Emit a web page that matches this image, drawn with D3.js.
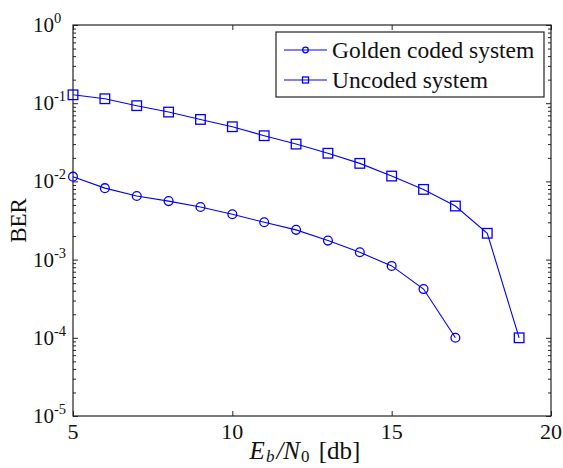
<!DOCTYPE html>
<html>
<head>
<meta charset="utf-8">
<script src="https://cdn.jsdelivr.net/npm/d3@7"></script>
<style>
  body { margin: 0; background: #fff; }
  svg, svg text { font-family: "Liberation Serif", Tinos, "Nimbus Roman", "Times New Roman", "DejaVu Serif", serif; }
</style>
</head>
<body>
<svg id="viz-svg" width="563" height="468"></svg>
<script>
// values
var snr = [5, 6, 7, 8, 9, 10, 11, 12, 13, 14, 15, 16, 17, 18, 19]
  , golden = [0.0115, 0.0082, 0.0065, 0.0056, 0.0047, 0.0038, 0.0030, 0.0024, 0.00175, 0.00124, 0.00083, 0.00042, 0.0001]
  , uncoded = [0.128, 0.114, 0.093, 0.077, 0.062, 0.050, 0.0384, 0.030, 0.0229, 0.0170, 0.0117, 0.0079, 0.00484, 0.00217, 0.0001]
  , xTicks = [5, 10, 15, 20]
  , yExps = [0, -1, -2, -3, -4, -5]
  , seriesNames = ["Golden coded system", "Uncoded system"];

var svg = d3.select("#viz-svg")
  , m = {left: 73, right: 551, top: 25, bottom: 416}
  , axisColor = "#222"
  , blue = "#0000ff"
  , serif = "'Liberation Serif', Tinos, 'Nimbus Roman', 'Times New Roman', 'DejaVu Serif', serif";

svg.attr("font-family", serif);

var x = d3.scaleLinear().domain([5, 20]).range([m.left, m.right]);
var y = d3.scaleLog().domain([1e-5, 1]).range([m.bottom, m.top]);

// minor ticks for the log axis
var minor = [];
yExps.slice(0, -1).forEach(function(e){
  for (var k = 2; k < 10; k++) minor.push(k * Math.pow(10, e - 1));
});
var major = yExps.map(function(e){ return Math.pow(10, e); });

var axes = svg.append("g").attr("class", "axes");

// frame
axes.append("rect")
  .attr("x", m.left).attr("y", m.top)
  .attr("width", m.right - m.left).attr("height", m.bottom - m.top)
  .attr("fill", "none").attr("stroke", axisColor).attr("stroke-width", 1.2);

function drawTicks(axisFn, tx, ty, vals, size){
  var g = axes.append("g")
    .attr("transform", "translate(" + tx + "," + ty + ")")
    .call(axisFn.tickValues(vals).tickSize(size).tickFormat(""));
  g.select(".domain").remove();
  g.selectAll(".tick line").attr("stroke", axisColor).attr("stroke-width", 1);
}
// y ticks, inward, left + right
drawTicks(d3.axisLeft(y), m.left, 0, major, -5);
drawTicks(d3.axisLeft(y), m.left, 0, minor, -3);
drawTicks(d3.axisRight(y), m.right, 0, major, -5);
drawTicks(d3.axisRight(y), m.right, 0, minor, -3);
// x ticks, inward, bottom + top
drawTicks(d3.axisBottom(x), 0, m.bottom, xTicks, -5);
drawTicks(d3.axisTop(x), 0, m.top, xTicks, -5);

// x tick labels
axes.selectAll(".xlab").data(xTicks).enter().append("text")
  .attr("class", "xlab")
  .attr("x", function(d){ return x(d); })
  .attr("y", m.bottom + 23)
  .attr("text-anchor", "middle")
  .attr("font-family", serif)
  .attr("font-size", 22)
  .attr("fill", "#111")
  .text(function(d){ return d; });

// y tick labels 10^e
var yl = axes.selectAll(".ylab").data(yExps).enter().append("text")
  .attr("class", "ylab")
  .attr("x", 33)
  .attr("y", function(e){ return y(Math.pow(10, e)) + 7; })
  .attr("font-family", serif)
  .attr("font-size", 21)
  .attr("fill", "#111");
yl.append("tspan").text("10");
yl.append("tspan")
  .attr("dy", -9)
  .attr("font-size", 14.5)
  .text(function(e){ return e === 0 ? "0" : "-" + (-e); });

// axis titles
var xt = axes.append("text")
  .attr("x", 305).attr("y", 459)
  .attr("text-anchor", "middle")
  .attr("font-family", serif)
  .attr("font-size", 25)
  .attr("fill", "#111");
xt.append("tspan").attr("font-style", "italic").text("E");
xt.append("tspan").attr("font-style", "italic").attr("font-size", 17).attr("dy", 3).attr("dx", 1).text("b");
xt.append("tspan").attr("font-style", "italic").attr("dy", -3).attr("dx", 2).text("/N");
xt.append("tspan").attr("font-size", 17).attr("dy", 3).attr("dx", 1).text("0");
xt.append("tspan").attr("dy", -3).attr("dx", 3).text(" [db]");

axes.append("text")
  .attr("transform", "translate(26," + ((m.top + m.bottom) / 2) + ") rotate(-90)")
  .attr("text-anchor", "middle")
  .attr("font-family", serif)
  .attr("font-size", 23)
  .attr("fill", "#111")
  .text("BER");

// series
var series = [
  {name: seriesNames[0], values: golden, shape: "circle"},
  {name: seriesNames[1], values: uncoded, shape: "square"}
];

var line = d3.line()
  .x(function(d, i){ return x(snr[i]); })
  .y(function(d){ return y(d); });

function marker(g, shape, cx, cy, r){
  if (shape === "circle"){
    g.append("circle").attr("cx", cx).attr("cy", cy).attr("r", r)
      .attr("fill", "none").attr("stroke", blue).attr("stroke-width", 1.3);
  } else {
    g.append("rect").attr("x", cx - r).attr("y", cy - r)
      .attr("width", 2 * r).attr("height", 2 * r)
      .attr("fill", "none").attr("stroke", blue).attr("stroke-width", 1.3);
  }
}

series.forEach(function(s){
  var g = svg.append("g").attr("class", "series");
  g.append("path")
    .datum(s.values)
    .attr("d", line)
    .attr("fill", "none")
    .attr("stroke", blue)
    .attr("stroke-width", 1.1);
  s.values.forEach(function(v, i){
    marker(g, s.shape, x(snr[i]), y(v), s.shape === "circle" ? 4.4 : 4.8);
  });
});

// legend
var legend = svg.append("g").attr("id", "legend-container");
legend.append("rect")
  .attr("x", 276).attr("y", 32).attr("width", 268).attr("height", 65)
  .attr("fill", "#fff").attr("stroke", axisColor).attr("stroke-width", 1.2);
series.forEach(function(s, i){
  var ly = 50 + i * 30;
  legend.append("line")
    .attr("x1", 284).attr("x2", 327).attr("y1", ly).attr("y2", ly)
    .attr("stroke", blue).attr("stroke-width", 1.1);
  marker(legend, s.shape, 305.5, ly, s.shape === "circle" ? 2.8 : 3);
  legend.append("text")
    .attr("x", 332).attr("y", ly + 8)
    .attr("font-family", serif)
    .attr("font-size", 23.5)
    .attr("fill", "#111")
    .text(s.name);
});
</script>
</body>
</html>
